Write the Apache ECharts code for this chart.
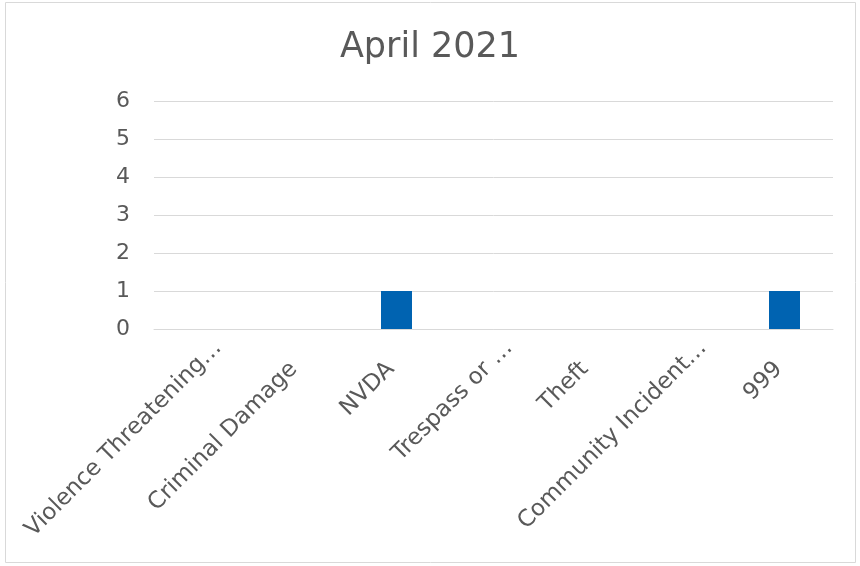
<!DOCTYPE html>
<html>
<head>
<meta charset="utf-8">
<script src="https://cdn.jsdelivr.net/npm/echarts@6/dist/echarts.min.js"></script>
<style>
  html, body { margin: 0; padding: 0; background: #fff; }
  #chart { width: 860px; height: 566px; }
</style>
</head>
<body>
<div id="chart"></div>
<script>
// categories (Excel truncates long ones with an ellipsis)
var categories = ['Violence Threatening…', 'Criminal Damage', 'NVDA', 'Trespass or …', 'Theft', 'Community Incident…', '999']
var counts = [0, 0, 1, 0, 0, 0, 1]
var yTicks = [0, 1, 2, 3, 4, 5, 6]

var font = 'DejaVu Sans'

// excel pushes the cut-off labels a bit further up/right than the full ones
var xLabels = categories.map(function (c) {
    var cut = c.slice(-1) === '…'
    return { value: c, textStyle: { padding: cut ? [8, -22, 0, 0] : [3, 8, 0, 0] } }
})

var myChart = echarts.init(document.getElementById('chart'))
myChart.setOption({
    animation: false,
    title: {
        text: 'April 2021',
        left: 'center',
        top: 25,
        textStyle: { fontFamily: font, fontSize: 35, fontWeight: 'normal', color: '#595959' }
    },
    graphic: [{
        type: 'rect',
        shape: { x: 5.5, y: 2.5, width: 850, height: 560 },
        style: { fill: 'none', stroke: '#d9d9d9', lineWidth: 1 }
    }],
    grid: { left: 154, right: 27, top: 101, bottom: 237, outerBoundsMode: 'none' },
    xAxis: {
        type: 'category',
        data: xLabels,
        axisLine: { lineStyle: { color: '#d9d9d9', width: 1 } },
        axisTick: { show: false },
        axisLabel: {
            interval: 0,
            rotate: 45,
            margin: 31,
            verticalAlign: 'top',
            fontFamily: font,
            fontSize: 23,
            color: '#595959'
        }
    },
    yAxis: {
        type: 'value',
        min: yTicks[0],
        max: yTicks[yTicks.length - 1],
        interval: 1,
        axisLine: { show: false },
        axisTick: { show: false },
        splitLine: { lineStyle: { color: '#d9d9d9', width: 1 } },
        axisLabel: { margin: 24, fontFamily: font, fontSize: 22, color: '#595959' }
    },
    series: [{
        type: 'bar',
        data: counts,
        barWidth: 31,
        itemStyle: { color: '#0063b1' }
    }]
})
</script>
</body>
</html>
